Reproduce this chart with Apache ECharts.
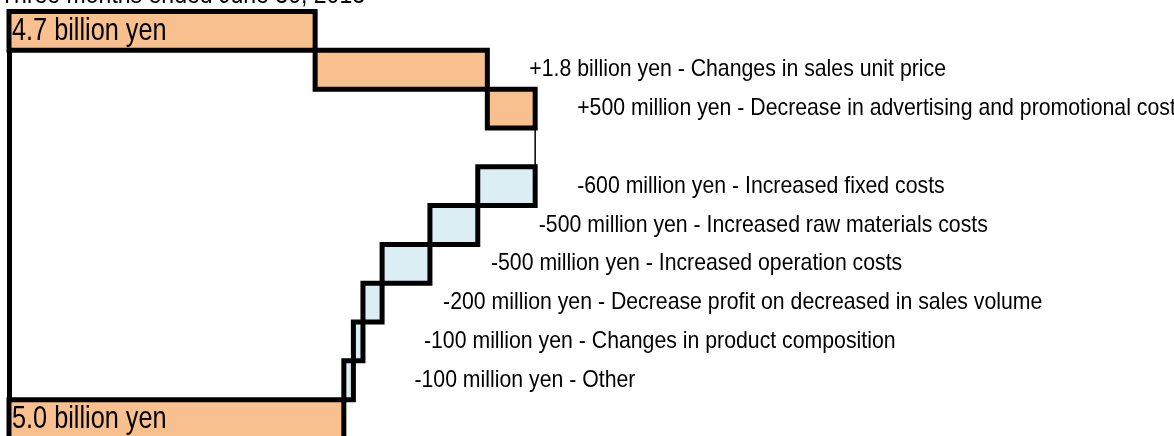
<!DOCTYPE html>
<html>
<head>
<meta charset="utf-8">
<title>Operating income bridge</title>
<script src="https://cdn.jsdelivr.net/npm/echarts@6/dist/echarts.min.js"></script>
<style>
  html, body { margin: 0; padding: 0; background: #fff; }
  #chart { width: 1174px; height: 436px; }
</style>
</head>
<body>
<div id="chart"></div>
<script>
// billion yen, top row to bottom row; null marks the empty spacer row
const startValue = 4.7;
const deltas = [1.8, 0.5, null, -0.6, -0.5, -0.5, -0.2, -0.1, -0.1];
const endValue = 5.0;

const rowLabels = [
  '4.7 billion yen',
  '+1.8 billion yen - Changes in sales unit price',
  '+500 million yen - Decrease in advertising and promotional costs',
  '',
  '-600 million yen - Increased fixed costs',
  '-500 million yen - Increased raw materials costs',
  '-500 million yen - Increased operation costs',
  '-200 million yen - Decrease profit on decreased in sales volume',
  '-100 million yen - Changes in product composition',
  '-100 million yen - Other',
  '5.0 billion yen'
];
const titleText = 'Three months ended June 30, 2013';

// narrow look: Liberation Sans squeezed horizontally
const FONT = '"Liberation Sans", Arial, sans-serif';
const ORANGE = '#f9c08f';
const BLUE = '#dbeef4';

// rows as [from, to, rowIndex, kind]
const rows = [[0, startValue, 0, 'total']];
let running = startValue;
deltas.forEach((d, k) => {
  const i = k + 1;
  if (d === null) {
    rows.push([running, running, i, 'gap']);
    return;
  }
  const from = running;
  running = +(running + d).toFixed(2);
  rows.push([Math.min(from, running), Math.max(from, running), i, d > 0 ? 'up' : 'down']);
});
rows.push([0, endValue, rows.length, 'total']);

const categories = rowLabels.map((_, i) => 'r' + i);
const gapIndex = deltas.indexOf(null) + 1;

const chart = echarts.init(document.getElementById('chart'));

chart.setOption({
  animation: false,
  graphic: [{
    type: 'text',
    x: 0,
    y: -4,
    scaleX: 0.886,
    style: {
      text: titleText,
      fontFamily: FONT,
      fontSize: 26,
      fill: '#000',
      verticalAlign: 'middle'
    }
  }],
  // last row runs off the bottom edge, as in the original
  grid: { left: 9, top: 11.5, width: 1148, height: 427, containLabel: false, outerBoundsMode: 'none' },
  xAxis: {
    type: 'value',
    min: 1.5,
    max: 13.5,
    show: false
  },
  yAxis: {
    type: 'category',
    data: categories,
    inverse: true,
    axisLine: { show: true, onZero: false, lineStyle: { color: '#000', width: 5 } },
    axisTick: { show: false },
    axisLabel: { show: false },
    splitLine: { show: false }
  },
  series: [
    {
      // waterfall pieces
      type: 'custom',
      data: rows,
      encode: { x: [0, 1], y: 2 },
      silent: true,
      renderItem: (params, api) => {
        const i = api.value(2);
        const kind = rows[params.dataIndex][3];
        const a = api.coord([api.value(0), i]);
        const b = api.coord([api.value(1), i]);
        const h = api.size([0, 1])[1];
        if (kind === 'gap') {
          // thin connector through the empty row
          return {
            type: 'line',
            shape: { x1: b[0], y1: b[1] - h / 2, x2: b[0], y2: b[1] + h / 2 },
            style: { stroke: '#000', lineWidth: 1.5 }
          };
        }
        const x0 = Math.max(a[0], params.coordSys.x);
        return {
          type: 'rect',
          shape: { x: x0, y: a[1] - h / 2, width: b[0] - x0, height: h },
          style: {
            fill: kind === 'down' ? BLUE : ORANGE,
            stroke: '#000',
            lineWidth: 5
          }
        };
      }
    },
    {
      // row labels
      type: 'custom',
      data: rows,
      encode: { x: [0, 1], y: 2 },
      silent: true,
      z: 5,
      renderItem: (params, api) => {
        const i = api.value(2);
        const kind = rows[params.dataIndex][3];
        if (kind === 'gap') return null;
        const total = kind === 'total';
        const pt = api.coord([api.value(1), i]);
        const x = total
          ? params.coordSys.x + 3
          : pt[0] + (i > gapIndex + 1 ? 61 : 42);
        return {
          type: 'text',
          x: x,
          y: pt[1],
          scaleX: total ? 0.79 : 0.886,
          style: {
            text: rowLabels[i],
            fontFamily: FONT,
            fontSize: total ? 32 : 24,
            fill: '#000',
            verticalAlign: 'middle',
            align: 'left'
          }
        };
      }
    }
  ]
});

window.addEventListener('resize', () => chart.resize());
</script>
</body>
</html>
